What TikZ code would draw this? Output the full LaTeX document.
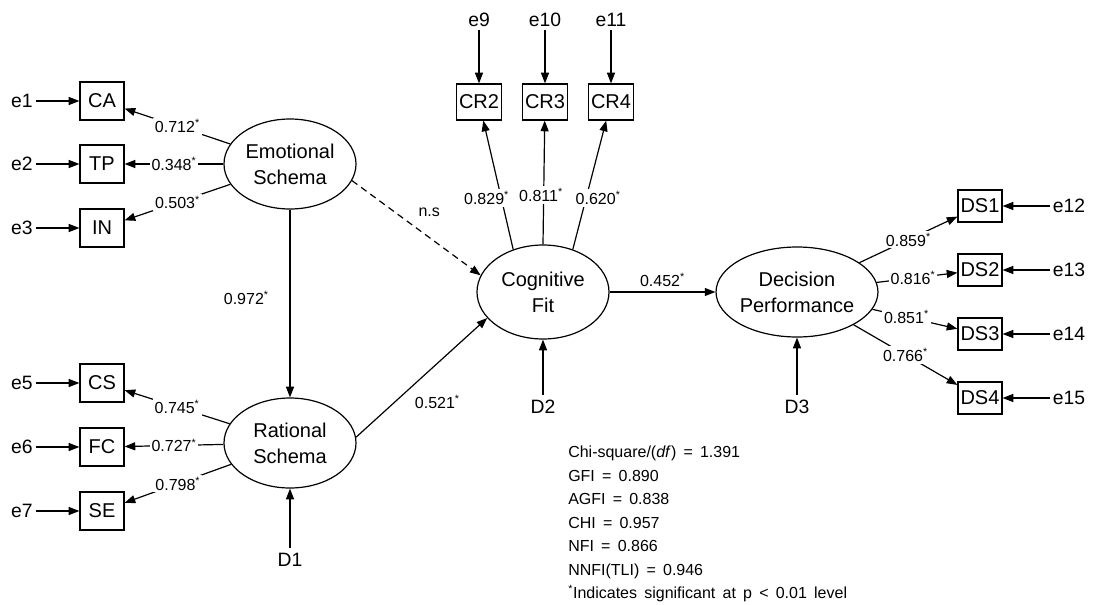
\documentclass[tikz,border=0pt]{standalone}
\usepackage{fontspec}
\setmainfont{Liberation Sans}
\usetikzlibrary{shapes.geometric,arrows.meta}
\newcommand\sig{\textsuperscript{*}}
\begin{document}
\begin{tikzpicture}[x=0.75pt,y=-0.75pt,
  obs/.style={draw, line width=0.9pt, minimum width=33pt, minimum height=28.5pt, inner sep=0pt, font=\fontsize{15}{18}\selectfont},
  lat/.style={draw, ellipse, line width=0.9pt, minimum width=99pt, minimum height=67.5pt, inner sep=0pt, align=center, font=\fontsize{15}{19.5}\selectfont},
  err/.style={inner sep=2pt, font=\fontsize{14.5}{17}\selectfont},
  arr/.style={line width=0.9pt, -{Triangle[length=8pt,width=6pt]}},
  lbl/.style={fill=white, inner sep=1.5pt, font=\fontsize{12}{14}\selectfont},
  stat/.style={align=left, inner sep=0pt, font=\fontsize{12}{17.6}\selectfont}
]
\useasboundingbox (0,0) rectangle (1100,604);

% latent variables
\node[lat] (ES) at (290,164) {Emotional\\Schema};
\node[lat] (RS) at (290,443) {Rational\\Schema};
\node[lat, minimum height=70.5pt] (CF) at (543,292) {Cognitive\\Fit};
\node[lat, minimum width=100.5pt] (DP) at (797,292) {Decision\\Performance};

% observed left
\node[obs] (CA) at (102,101) {CA};
\node[obs] (TP) at (102,164) {TP};
\node[obs] (IN) at (102,228) {IN};
\node[obs] (CS) at (102,383) {CS};
\node[obs] (FC) at (102,447) {FC};
\node[obs] (SE) at (102,511) {SE};

% observed top
\node[obs, minimum width=34pt, minimum height=27pt] (CR2) at (479,102) {CR2};
\node[obs, minimum width=34pt, minimum height=27pt] (CR3) at (545,102) {CR3};
\node[obs, minimum width=34pt, minimum height=27pt] (CR4) at (611,102) {CR4};

% observed right
\node[obs, minimum height=24pt] (DS1) at (980,206) {DS1};
\node[obs, minimum height=24pt] (DS2) at (980,270) {DS2};
\node[obs, minimum height=24pt] (DS3) at (980,334) {DS3};
\node[obs, minimum height=24pt] (DS4) at (980,398) {DS4};

% error terms
\node[err] (e1) at (22,101) {e1};
\node[err] (e2) at (22,164) {e2};
\node[err] (e3) at (22,228) {e3};
\node[err] (e5) at (22,383) {e5};
\node[err] (e6) at (22,447) {e6};
\node[err] (e7) at (22,511) {e7};
\node[err] (e9) at (479,20) {e9};
\node[err] (e10) at (545,20) {e10};
\node[err] (e11) at (611,20) {e11};
\node[err] (e12) at (1069,206) {e12};
\node[err] (e13) at (1069,270) {e13};
\node[err] (e14) at (1069,334) {e14};
\node[err] (e15) at (1069,398) {e15};
\node[err, inner sep=4pt] (D1) at (290,560) {D1};
\node[err, inner sep=4pt] (D2) at (543,407) {D2};
\node[err, inner sep=4pt] (D3) at (797,407) {D3};

% error arrows
\foreach \e/\b in {e1/CA,e2/TP,e3/IN,e5/CS,e6/FC,e7/SE,e9/CR2,e10/CR3,e11/CR4,e12/DS1,e13/DS2,e14/DS3,e15/DS4,D1/RS,D2/CF,D3/DP}
  \draw[arr] (\e) -- (\b);

% loadings left
\draw[arr] (ES) -- node[lbl]{0.712\sig} (CA);
\draw[arr] (ES) -- node[lbl]{0.348\sig} (TP);
\draw[arr] (ES) -- node[lbl]{0.503\sig} (IN);
\draw[arr] (RS) -- node[lbl]{0.745\sig} (CS);
\draw[arr] (RS) -- node[lbl]{0.727\sig} (FC);
\draw[arr] (RS) -- node[lbl]{0.798\sig} (SE);

% loadings top
\draw[arr] (CF.125) -- node[lbl, pos=0.4, xshift=-11pt]{0.829\sig} (CR2);
\draw[arr] (CF.90) -- node[lbl, pos=0.4, xshift=-2pt]{0.811\sig} (CR3);
\draw[arr] (CF.55) -- node[lbl, pos=0.4, xshift=9pt]{0.620\sig} (CR4);

% loadings right
\draw[arr] (DP) -- node[lbl, pos=0.5]{0.859\sig} (DS1);
\draw[arr] (DP) -- node[lbl, pos=0.45]{0.816\sig} (DS2);
\draw[arr] (DP) -- node[lbl, pos=0.4]{0.851\sig} (DS3);
\draw[arr] (DP) -- node[lbl, pos=0.5]{0.766\sig} (DS4);

% structural paths
\draw[arr] (ES) -- node[lbl, fill=none, left=14pt, yshift=4.5pt]{0.972\sig} (RS);
\draw[arr, dash pattern=on 5pt off 3.5pt] (ES.-15) -- node[lbl, fill=none, pos=0.6, above=14pt]{n.s} (CF.165);
\draw[arr] (RS.5) -- node[lbl, fill=none, pos=0.62, below=22pt]{0.521\sig} (CF.205);
\draw[arr] (CF) -- node[lbl, fill=none, above=2pt]{0.452\sig} (DP);

% fit statistics
\node[stat, anchor=north west] (stats) at (568,446) {%
  \spaceskip=0.45em Chi-square/(\textit{df}) = 1.391\\
  \spaceskip=0.45em GFI = 0.890\\
  \spaceskip=0.45em AGFI = 0.838\\
  \spaceskip=0.45em CHI = 0.957\\
  \spaceskip=0.45em NFI = 0.866\\
  \spaceskip=0.45em NNFI(TLI) = 0.946\\
  \spaceskip=0.45em \textsuperscript{*}Indicates significant at p < 0.01 level};
\end{tikzpicture}
\end{document}
